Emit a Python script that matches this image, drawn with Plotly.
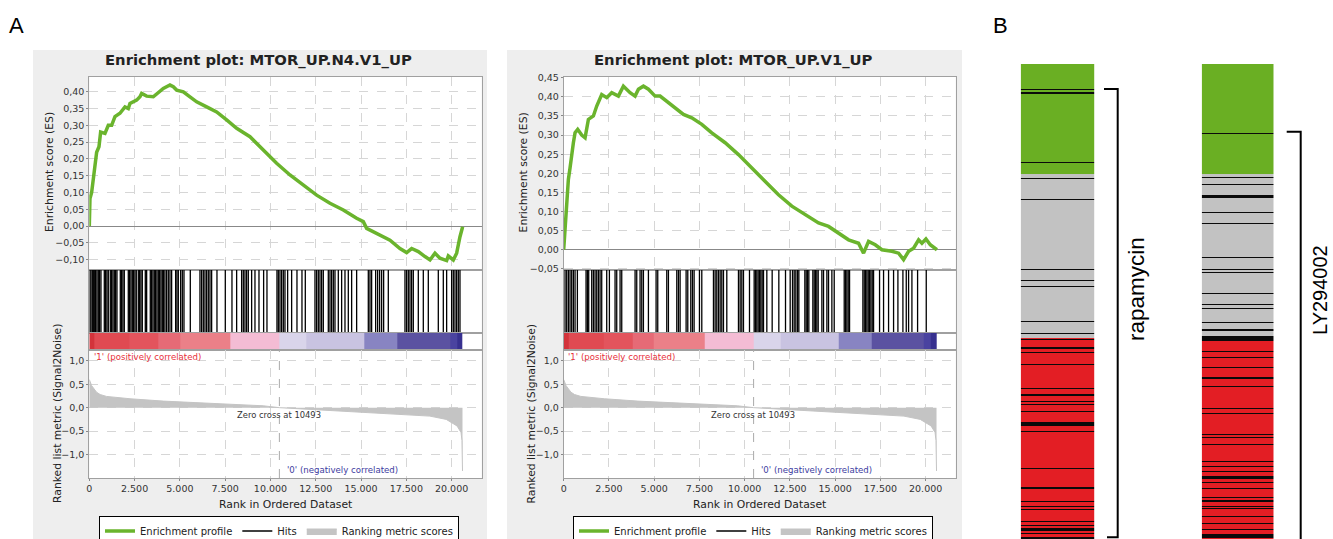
import plotly.graph_objects as go

W, H = 1333, 539
def X(px): return px / W
def Y(py): return 1 - py / H

# ---------------- data ----------------
es_left_rank = [0,37,129,220,313,405,534,626,865,1049,1233,1417,1693,1969,2153,2245,2613,2797,2889,3165,
                3533,3809,4085,4453,4637,4821,5189,5557,5925,6477,7029,7581,8133,8869,9605,10341,11077,11813,12549,13285,
                14021,14757,15125,15309,15861,16597,17149,17517,17793,18161,18529,18805,19081,19357,19725,19817,20093,20277,20461,20608]
es_left_score = [0,.082,.10,.147,.187,.22,.236,.28,.276,.30,.30,.326,.336,.355,.35,.365,.375,.385,.395,.387,
                 .385,.397,.41,.42,.415,.405,.40,.385,.37,.355,.34,.316,.291,.266,.226,.187,.152,.122,.092,.068,
                 .048,.023,.013,-.007,-.022,-.042,-.067,-.079,-.067,-.076,-.091,-.101,-.081,-.096,-.103,-.089,-.101,-.081,-.032,-.002]

es_right_rank = [0,37,111,184,258,350,442,535,627,774,995,1180,1364,1640,1825,2101,2377,2654,3022,3299,
                 3668,3944,4128,4405,4681,5050,5326,5787,6248,6616,7077,7630,8183,8920,9657,10395,11132,11869,12606,13343,
                 14081,14634,15186,15739,16292,16569,16845,17214,17582,18135,18504,18780,19057,19333,19610,19794,20015,20254,20623]
es_right_score = [0,.031,.087,.131,.184,.214,.253,.28,.306,.315,.30,.293,.341,.35,.376,.406,.398,.411,.402,.428,
                  .411,.402,.42,.428,.42,.402,.402,.385,.367,.354,.345,.328,.306,.28,.249,.214,.179,.144,.114,.092,
                  .07,.061,.044,.026,.017,-.009,.022,.013,0,-.004,-.009,-.026,-.004,.004,.026,.017,.028,.013,0]

hits_left = [37,92,166,221,276,350,423,497,570,644,828,902,975,1049,1159,1233,1306,1380,1454,1527,
             1711,1785,1858,1932,2153,2226,2300,2374,2447,2521,2594,2705,2778,2852,2926,3091,3165,
             3367,3441,3514,3588,3662,3735,3809,3882,3956,4030,4103,4177,4269,4361,4453,4545,
             4766,4839,4913,5042,5134,5226,5575,6109,6201,6293,6385,6477,6569,6661,6753,
             7047,7507,7875,8133,8409,8501,8593,8685,8777,8961,9145,9366,9623,9807,
             10359,10433,10525,10617,10709,10801,10948,11169,11463,11739,11923,
             12457,12549,12641,12733,12825,12917,13193,13285,13377,13469,13561,
             13745,13929,14113,14297,14481,14757,15401,15493,15585,15806,15916,16026,16137,16247,
             16505,17425,17517,17609,17701,17793,17885,18161,18437,18713,19265,19541,19725,
             20001,20093,20185,20277,20369,20461]

hits_right = [74,166,258,350,442,534,627,756,1235,1309,1382,1548,1640,1732,1825,1917,2009,2101,2377,2525,
              2838,2930,3115,3207,3944,4036,4220,4313,4405,4681,5105,5197,5695,5787,6248,6340,6432,6764,6856,
              7022,7114,7206,7501,7630,8275,8367,8459,8552,8644,8736,8828,9012,9657,9749,9842,9934,10266,
              10524,10597,10671,10745,10819,10892,10966,11040,11224,11519,11887,12256,12514,12643,12735,12827,
              12920,12993,13325,13399,13472,13546,13767,13841,13915,13988,14062,14265,14357,14542,14634,14818,
              14947,15500,15574,15647,15721,15795,16532,16606,16679,16753,16827,16901,16974,17048,17122,17453,
              17674,17951,18227,18467,18743,18928,19057,19241,19554,20033]

metric_rank = [0,130,400,600,950,2250,4100,5900,7750,9600,10493,13300,15100,17000,18800,19700,20300,20520,20570,20600]
metric_value = [0.6,0.47,0.33,0.28,0.24,0.19,0.14,0.11,0.075,0.04,0,-0.06,-0.1,-0.14,-0.18,-0.25,-0.39,-0.53,-0.7,-1.35]
zero_cross = 10493

band_edges = [0,300,2200,3800,5000,7800,10500,12000,15200,17000,19900,20300,20600]
band_colors = ['#D3333B','#E04A52','#E3545D','#E66A76','#EB8088','#F4BCD4','#D9D4EA','#C9C3E1',
               '#8884C2','#5B52A1','#4A43A0','#37308F']

x_ticks = [0,2500,5000,7500,10000,12500,15000,17500,20000]
es_left_ticks = [-0.10,-0.05,0,0.05,0.10,0.15,0.20,0.25,0.30,0.35,0.40]
es_right_ticks = [-0.05,0,0.05,0.10,0.15,0.20,0.25,0.30,0.35,0.40,0.45]
metric_ticks = [-1.0,-0.5,0.0,0.5,1.0]

# Panel B: gene rows (top to bottom) in three blocks, with hit rows
b_left_blocks = [110, 164, 201]     # green, gray, red
b_right_blocks = [110, 162, 203]
b_left_hits = [25,28,29,98,114,135,205,216,222,257,269,275,283,284,288,300,324,330,331,337,340,347,
               358,359,360,361,367,404,423,424,437,442,445,457,461,464,465,466,469,473,474]
b_right_hits = [69,113,120,131,132,133,148,159,193,205,208,229,240,244,258,265,266,272,273,274,275,276,
                287,293,303,313,314,322,344,349,370,373,380,397,402,407,412,413,414,418,424,433,436,437,
                442,444,452,459,465,470,471,472,473]
b_labels = ['rapamycin', 'LY294002']

# ---------------- styles ----------------
GREEN = '#6AB42D'
FONT = 'DejaVu Sans'
TICKF = dict(family=FONT, size=9.5, color='#333333')
BORDER = '#A0A0A0'
GRID = '#D6D6D6'

fig = go.Figure()

panels = [
    dict(xl=89.3, xr=481.7, es_r=es_left_rank, es_s=es_left_score, hits=hits_left,
         es_range=[-0.131, 0.444], es_ticks=es_left_ticks, legend='legend', ax0=1),
    dict(xl=563.7, xr=955.7, es_r=es_right_rank, es_s=es_right_score, hits=hits_right,
         es_range=[-0.053, 0.452], es_ticks=es_right_ticks, legend='legend2', ax0=5),
]
XR = [0, 21660]
ydom = {'es': (77, 270), 'hits': (270, 333), 'band': (333, 350), 'metric': (350, 478)}

layout_axes = {}
for p in panels:
    a = p['ax0']
    names = ['es', 'hits', 'band', 'metric']
    for i, nm in enumerate(names):
        k = a + i
        xk = 'xaxis' if k == 1 else f'xaxis{k}'
        yk = 'yaxis' if k == 1 else f'yaxis{k}'
        xa = dict(domain=[X(p['xl']), X(p['xr'])], range=XR, anchor=f'y{k}' if k > 1 else 'y',
                  showline=True, mirror=True, linecolor=BORDER, linewidth=1,
                  tickvals=x_ticks, showgrid=(nm in ('es', 'metric')), gridcolor=GRID, griddash='dash',
                  zeroline=False, showticklabels=(nm == 'metric'), tickformat=',d',
                  ticks='outside' if nm == 'metric' else '', ticklen=2, tickcolor='#888', tickfont=TICKF)
        ya = dict(domain=[Y(ydom[nm][1]), Y(ydom[nm][0])], anchor=f'x{k}' if k > 1 else 'x',
                  showline=True, mirror=True, linecolor=BORDER, linewidth=1, tickfont=TICKF)
        if nm == 'es':
            ya.update(range=p['es_range'], tickvals=p['es_ticks'], tickformat='.2f', showgrid=True,
                      gridcolor=GRID, griddash='dash', zeroline=True, zerolinecolor='#888888', zerolinewidth=1,
                      ticks='outside', ticklen=2, tickcolor='#888')
        elif nm == 'metric':
            ya.update(range=[-1.5, 1.23], tickvals=metric_ticks, tickformat='.1f', showgrid=True,
                      gridcolor=GRID, griddash='dash', zeroline=False, ticks='outside', ticklen=2, tickcolor='#888')
        else:
            ya.update(range=[0, 1], showticklabels=False, showgrid=False, zeroline=False, ticks='')
        layout_axes[xk] = xa
        layout_axes[yk] = ya

    def ref(i):
        k = a + i
        return ('x' if k == 1 else f'x{k}'), ('y' if k == 1 else f'y{k}')

    # ES profile
    xr_, yr_ = ref(0)
    fig.add_trace(go.Scatter(x=p['es_r'], y=p['es_s'], mode='lines', line=dict(color=GREEN, width=3.5),
                             name='Enrichment profile', xaxis=xr_, yaxis=yr_, legend=p['legend'],
                             showlegend=True))
    # hits
    hx, hy = [], []
    for h in p['hits']:
        hx += [h, h, None]
        hy += [0, 1, None]
    xr_, yr_ = ref(1)
    fig.add_trace(go.Scatter(x=hx, y=hy, mode='lines', line=dict(color='black', width=1.3),
                             name='Hits', xaxis=xr_, yaxis=yr_, legend=p['legend'], showlegend=True))
    # colour band
    n = len(band_colors)
    cs = [[i / (n - 1), c] for i, c in enumerate(band_colors)]
    xr_, yr_ = ref(2)
    fig.add_trace(go.Heatmap(x=band_edges, y=[0, 1], z=[list(range(n))], colorscale=cs, zmin=0, zmax=n - 1,
                             showscale=False, xaxis=xr_, yaxis=yr_, hoverinfo='skip'))
    # ranked metric
    xr_, yr_ = ref(3)
    fig.add_trace(go.Scatter(x=metric_rank, y=metric_value, mode='lines', fill='tozeroy',
                             fillcolor='#C4C4C4', line=dict(color='#C4C4C4', width=1),
                             name='Ranking metric scores', xaxis=xr_, yaxis=yr_, legend=p['legend'],
                             showlegend=True))
    fig.add_trace(go.Scatter(x=[zero_cross, zero_cross], y=[-1.5, 1.23], mode='lines',
                             line=dict(color='#AAAAAA', width=1, dash='dash'), showlegend=False,
                             xaxis=xr_, yaxis=yr_))

# Panel B heatmaps
B_GREEN, B_GRAY, B_RED = '#6AAF23', '#C2C2C2', '#E31E24'
bcs = [[0, B_GREEN], [1/6, B_GREEN], [1/6, B_GRAY], [0.5, B_GRAY], [0.5, B_RED], [5/6, B_RED], [5/6, '#0A0A0A'], [1, '#0A0A0A']]
for j, (blocks, hits, xl, xr) in enumerate([(b_left_blocks, b_left_hits, 1020.7, 1094.3),
                                           (b_right_blocks, b_right_hits, 1201.7, 1273.7)]):
    col = []
    for cat, cnt in enumerate(blocks):
        col += [cat] * cnt
    for h in hits:
        if h < len(col):
            col[h] = 3
    k = 9 + j
    fig.add_trace(go.Heatmap(x=[0], y=list(range(len(col))), z=[[v] for v in col], colorscale=bcs,
                             zmin=0, zmax=3, showscale=False, xaxis=f'x{k}', yaxis=f'y{k}', hoverinfo='skip'))
    layout_axes[f'xaxis{k}'] = dict(domain=[X(xl), X(xr)], range=[-0.5, 0.5], visible=False, anchor=f'y{k}')
    layout_axes[f'yaxis{k}'] = dict(domain=[Y(539), Y(64)], range=[len(col) - 0.5, -0.5], visible=False,
                                    anchor=f'x{k}')

fig.update_layout(**layout_axes)

# backgrounds
shapes = []
for xl, xr in [(33, 487), (507, 962)]:
    shapes.append(dict(type='rect', xref='paper', yref='paper', x0=X(xl), x1=X(xr), y0=Y(539), y1=Y(50),
                       fillcolor='#EEEEEE', line=dict(width=0), layer='below'))
for p in panels:
    shapes.append(dict(type='rect', xref='paper', yref='paper', x0=X(p['xl']), x1=X(p['xr']), y0=Y(478), y1=Y(77),
                       fillcolor='white', line=dict(width=0), layer='below'))
# brackets panel B
for pts in [[(1104, 89), (1117.7, 89), (1117.7, 537.3), (1107, 537.3)],
            [(1286.7, 131.7), (1300.7, 131.7), (1300.7, 545)]]:
    path = 'M ' + ' L '.join(f'{X(a)} {Y(b)}' for a, b in pts)
    shapes.append(dict(type='path', xref='paper', yref='paper', path=path, line=dict(color='black', width=2)))

ann = []
def txt(x, y, s, size, color='#222', angle=0, xanchor='center', bold=False, family=FONT):
    ann.append(dict(x=X(x), y=Y(y), xref='paper', yref='paper', text=f'<b>{s}</b>' if bold else s,
                    showarrow=False, textangle=angle, xanchor=xanchor, yanchor='middle',
                    font=dict(family=family, size=size, color=color)))

txt(258, 60, 'Enrichment plot: MTOR_UP.N4.V1_UP', 14.8, bold=True)
txt(733.5, 60, 'Enrichment plot: MTOR_UP.V1_UP', 14.8, bold=True)
for off in (0, 474.4):
    txt(49 + off, 172, 'Enrichment score (ES)', 10.8, angle=-90)
    txt(57 + off, 414, 'Ranked list metric (Signal2Noise)', 10.8, angle=-90)
    txt(285.5 + off, 504, 'Rank in Ordered Dataset', 10.8)
    txt(91.5 + off, 357, "'1' (positively correlated)", 8.6, color='#E8303A', xanchor='left')
    txt(285 + off, 470, "'0' (negatively correlated)", 8.6, color='#3C3CA0', xanchor='left')
    txt(278.5 + off, 414.5, 'Zero cross at 10493', 8.4, color='#333333')
txt(16, 25, 'A', 22, color='black', family='Liberation Sans')
txt(1000, 25, 'B', 22, color='black', family='Liberation Sans')
txt(1136, 289, b_labels[0], 22.5, color='black', angle=-90, family='Liberation Sans')
txt(1320, 290, b_labels[1], 20, color='black', angle=-90, family='Liberation Sans')

leg_common = dict(orientation='h', xanchor='left', yanchor='top', bgcolor='white', bordercolor='black',
                  borderwidth=1, font=dict(family=FONT, size=10, color='#222'), itemwidth=30,
                  tracegroupgap=0, itemclick=False)
fig.update_layout(
    width=W, height=H, margin=dict(l=0, r=0, t=0, b=0, autoexpand=False),
    paper_bgcolor='white', plot_bgcolor='rgba(0,0,0,0)',
    separators=',.',
    shapes=shapes, annotations=ann,
    legend=dict(x=X(99), y=Y(515.5), **leg_common),
    legend2=dict(x=X(573), y=Y(515.5), **leg_common),
    font=dict(family=FONT),
)

fig.write_html('out.html', config={'displayModeBar': False},
               post_script="document.body.style.margin='0px';document.body.style.overflow='hidden';")
